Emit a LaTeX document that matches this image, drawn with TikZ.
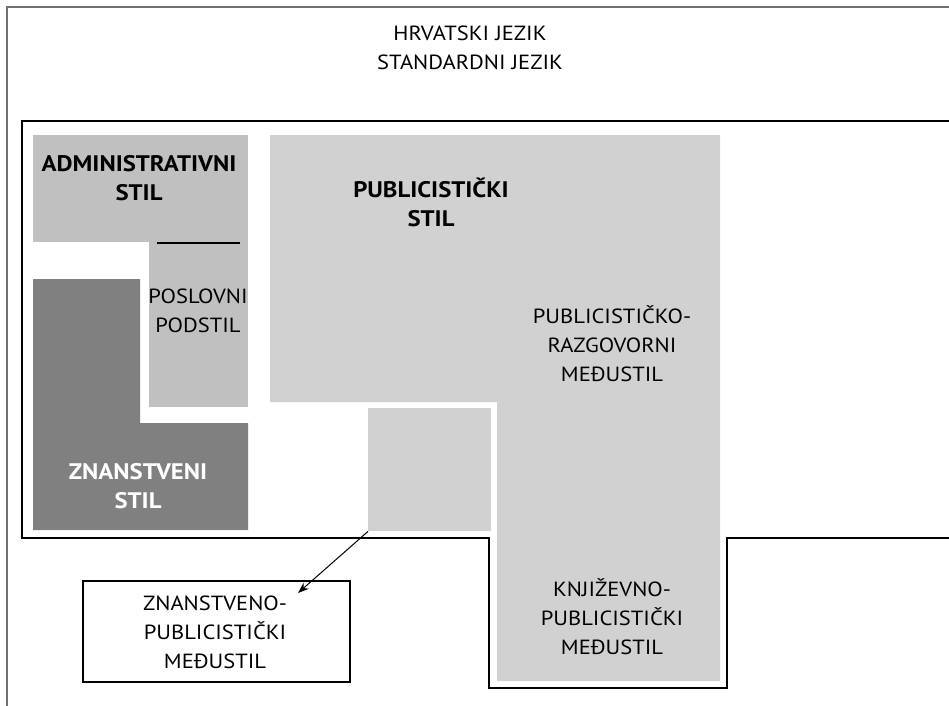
\documentclass[tikz,border=0pt]{standalone}
\usepackage{fontspec}
\setmainfont{PT Sans}[FakeStretch=1.1]
\usetikzlibrary{arrows.meta}
\definecolor{admgray}{HTML}{C0C0C0}
\definecolor{pubgray}{HTML}{D1D1D1}
\definecolor{zngray}{HTML}{808080}
\definecolor{framegray}{HTML}{707070}

\begin{document}
\begin{tikzpicture}[x=1pt,y=-1pt,
  lbl/.style={font=\fontsize{20.5}{29}\selectfont, align=center, inner sep=0pt},
  boldlbl/.style={font=\fontsize{22.5}{29}\selectfont\bfseries, align=center, inner sep=0pt},
  region/.style={draw=none},
  frameline/.style={line width=2.5pt, line join=miter},
  conn/.style={line width=1pt, -{Stealth[length=11pt, width=8pt]}}
]
\useasboundingbox (0,0) rectangle (949,705);
\begin{scope}
\clip (0,0) rectangle (949,705);

% outer frame of the standard language (continues past the page edge)
\draw[framegray, line width=1.5pt] (7,720) -- (7,7) -- (960,7);

% inner frame with the notch for the literary intermediate style
\draw[frameline] (22,121) -- (22,538) -- (489,538) -- (489,688) -- (727,688)
  -- (727,538) -- (950.5,538) -- (950.5,121) -- cycle;

% administrative style and its business substyle
\fill[admgray] (33,135) rectangle (248,242);
\fill[admgray] (149,242) rectangle (248,407);
\draw[line width=2pt] (157,243) -- (240,243);

% scientific style
\fill[zngray] (33,279) -- (140,279) -- (140,423) -- (248,423) -- (248,530)
  -- (33,530) -- cycle;

% journalistic style
\fill[pubgray] (270,135) -- (720,135) -- (720,681) -- (497,681) -- (497,402)
  -- (270,402) -- cycle;

% scientific-journalistic square
\node[region, fill=pubgray, minimum width=123pt, minimum height=123pt,
  inner sep=0pt, anchor=north west] (znpub) at (368,408) {};
\end{scope}

% labels
\node[lbl] (hj) at (470,48) {HRVATSKI JEZIK\\STANDARDNI JEZIK};
\node[boldlbl] (adm) at (139,178) {ADMINISTRATIVNI\\STIL};
\node[lbl] (posl) at (198,311) {POSLOVNI\\PODSTIL};
\node[boldlbl] (pub) at (431,202) {PUBLICISTIČKI\\STIL};
\node[lbl] (razg) at (612,344) {PUBLICISTIČKO-\\RAZGOVORNI\\MEĐUSTIL};
\node[boldlbl, text=white] (znan) at (138,486) {ZNANSTVENI\\STIL};
\node[lbl] (knj) at (612,617) {KNJIŽEVNO-\\PUBLICISTIČKI\\MEĐUSTIL};

% separate box for the scientific-journalistic intermediate style
\node[lbl, draw, line width=2pt, minimum width=267pt, minimum height=101pt,
  anchor=north west] (znbox) at (82,580) {};
\node[lbl] (zntext) at (215,632) {ZNANSTVENO-\\PUBLICISTIČKI\\MEĐUSTIL};
\coordinate (tip) at (298,593);
\draw[conn] (znpub.south west) -- (tip);
\end{tikzpicture}
\end{document}
